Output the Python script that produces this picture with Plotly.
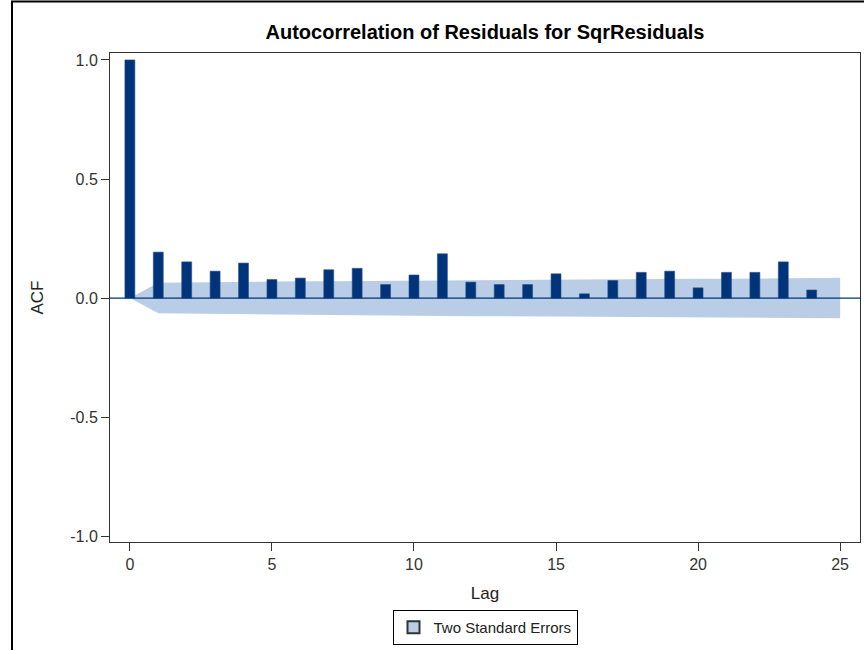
import plotly.graph_objects as go

# Data
lags = list(range(0, 25))
acf = [1.000, 0.193, 0.152, 0.113, 0.147, 0.078, 0.084, 0.119, 0.125, 0.057,
       0.097, 0.186, 0.067, 0.057, 0.057, 0.102, 0.018, 0.074, 0.108, 0.113,
       0.043, 0.108, 0.108, 0.152, 0.034]

band_lags = list(range(0, 26))
band_se = [0.000, 0.064, 0.066, 0.068, 0.069, 0.070, 0.071, 0.071, 0.072, 0.073,
           0.073, 0.074, 0.076, 0.076, 0.077, 0.077, 0.078, 0.078, 0.079, 0.080,
           0.081, 0.081, 0.082, 0.083, 0.084, 0.085]

x_ticks = [0, 5, 10, 15, 20, 25]
y_ticks = [-1.0, -0.5, 0.0, 0.5, 1.0]
y_ticktext = ["-1.0", "-0.5", "0.0", "0.5", "1.0"]

BAR = "#00347A"
BAND = "#B9CEE6"
FONT = "Liberation Sans, Arial, sans-serif"
XR = [-0.70, 25.70]
YR = [-1.024, 1.029]

fig = go.Figure()

poly_x = band_lags + band_lags[::-1]
poly_y = band_se + [-v for v in band_se[::-1]]
fig.add_trace(go.Scatter(
    x=poly_x, y=poly_y, fill="toself", fillcolor=BAND, mode="lines",
    line=dict(width=0, color=BAND), hoverinfo="skip", showlegend=False,
    name="Two Standard Errors", xaxis="x", yaxis="y"))

# legend entry for the band
fig.add_trace(go.Bar(
    x=[None], y=[None], name="Two Standard Errors",
    marker=dict(color=BAND, line=dict(color="#333333", width=1)), showlegend=True,
    xaxis="x", yaxis="y"))

# bars on an overlaying axis pair so they are drawn above the band
fig.add_trace(go.Bar(
    x=lags, y=acf, width=0.35,
    marker=dict(color=BAR, line=dict(color="#2A4F8C", width=0.6)),
    showlegend=False, name="ACF", xaxis="x2", yaxis="y2"))

# zero reference line drawn above the bars
fig.add_trace(go.Scatter(
    x=XR, y=[0, 0], mode="lines", line=dict(color=BAR, width=1.3),
    hoverinfo="skip", showlegend=False, xaxis="x2", yaxis="y2"))

ml, mr, mt, mb = 110, 4, 53, 108
W, H = 864, 650
pw = W - ml - mr
ph = H - mt - mb

# outer frame of the graph
fig.add_shape(type="rect", xref="paper", yref="paper",
              x0=(12 - ml) / pw, x1=(870 - ml) / pw,
              y0=(H - mb - 660) / ph, y1=(H - mb - 1.5) / ph,
              line=dict(color="black", width=2), layer="below")

axis_common = dict(ticks="outside", ticklen=8, tickcolor="#333333", showline=True,
                   linecolor="#333333", linewidth=1, mirror=True, showgrid=False,
                   zeroline=False, automargin=False,
                   tickfont=dict(size=16, color="#333333"))

fig.update_layout(
    width=W, height=H,
    margin=dict(l=ml, r=mr, t=mt, b=mb, autoexpand=False),
    paper_bgcolor="white", plot_bgcolor="white",
    font=dict(family=FONT, size=16, color="#222222"),
    barmode="overlay",
    title=dict(text="<b>Autocorrelation of Residuals for SqrResiduals</b>",
               x=(ml + pw / 2) / W, xanchor="center", y=1 - 32 / H, yanchor="middle",
               font=dict(family=FONT, size=20, color="black")),
    xaxis=dict(range=XR, tickvals=x_ticks,
               title=dict(text="Lag", standoff=14, font=dict(size=17)), **axis_common),
    yaxis=dict(range=YR, tickvals=y_ticks, ticktext=y_ticktext,
               title=dict(text="ACF", standoff=22, font=dict(size=17)), **axis_common),
    xaxis2=dict(range=XR, overlaying="x", visible=False, showgrid=False, zeroline=False),
    yaxis2=dict(range=YR, overlaying="y", visible=False, showgrid=False, zeroline=False),
    legend=dict(x=(ml + pw / 2) / W, xanchor="center", xref="container",
                y=1 - 610 / H, yanchor="top", yref="container",
                orientation="h", bordercolor="black", borderwidth=1,
                font=dict(size=15, color="#222222"), bgcolor="white",
                itemsizing="constant"),
    showlegend=True,
)

fig.write_html(
    "out.html",
    config={"displayModeBar": False},
    post_script="document.body.style.margin='0';document.body.style.overflow='hidden';",
)
